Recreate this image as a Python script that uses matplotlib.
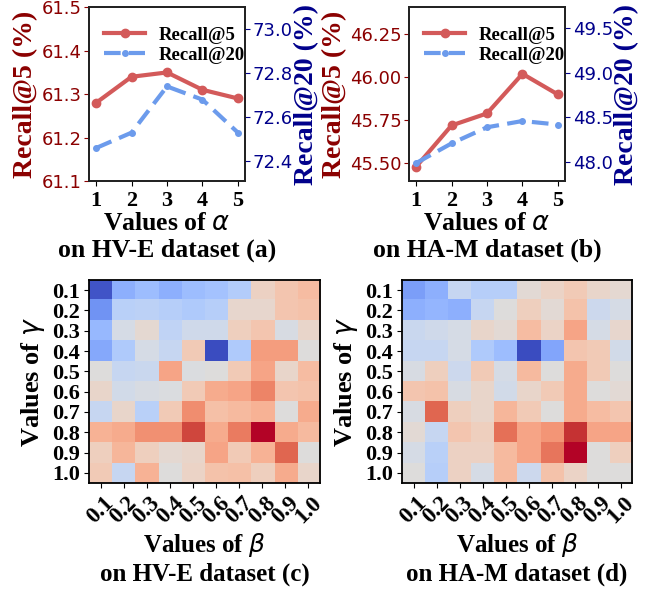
import matplotlib
matplotlib.use("Agg")
import matplotlib.pyplot as plt
from matplotlib.ticker import FormatStrFormatter
import numpy as np

# ── Datos ─────────────────────────────────────────────────────────────────────
alpha_vals = [1, 2, 3, 4, 5]
hve_r5  = [61.28, 61.34, 61.35, 61.31, 61.29]
hve_r20 = [72.46, 72.53, 72.74, 72.68, 72.53]
ham_r5  = [45.48, 45.72, 45.79, 46.02, 45.90]
ham_r20 = [47.99, 48.21, 48.39, 48.46, 48.42]

grid_labels = ["0.1", "0.2", "0.3", "0.4", "0.5", "0.6", "0.7", "0.8", "0.9", "1.0"]

# filas = gamma, columnas = beta (escala normalizada 0-1)
hve_grid = [
    [0.02, 0.25, 0.30, 0.25, 0.30, 0.32, 0.36, 0.57, 0.62, 0.65],
    [0.17, 0.38, 0.39, 0.37, 0.35, 0.37, 0.54, 0.54, 0.62, 0.63],
    [0.28, 0.47, 0.53, 0.40, 0.45, 0.45, 0.58, 0.62, 0.48, 0.55],
    [0.23, 0.35, 0.47, 0.42, 0.60, 0.00, 0.35, 0.74, 0.74, 0.50],
    [0.50, 0.42, 0.43, 0.72, 0.49, 0.50, 0.60, 0.72, 0.55, 0.65],
    [0.55, 0.46, 0.48, 0.49, 0.60, 0.70, 0.72, 0.80, 0.62, 0.63],
    [0.42, 0.55, 0.38, 0.60, 0.78, 0.64, 0.66, 0.68, 0.50, 0.70],
    [0.68, 0.70, 0.77, 0.77, 0.92, 0.70, 0.82, 1.00, 0.70, 0.66],
    [0.58, 0.67, 0.58, 0.53, 0.55, 0.72, 0.60, 0.68, 0.86, 0.50],
    [0.60, 0.42, 0.68, 0.50, 0.56, 0.63, 0.64, 0.58, 0.70, 0.55],
]
ham_grid = [
    [0.20, 0.25, 0.42, 0.37, 0.37, 0.52, 0.56, 0.60, 0.55, 0.53],
    [0.25, 0.27, 0.25, 0.42, 0.50, 0.58, 0.52, 0.63, 0.44, 0.47],
    [0.43, 0.45, 0.47, 0.55, 0.52, 0.65, 0.56, 0.72, 0.47, 0.54],
    [0.42, 0.42, 0.47, 0.35, 0.30, 0.00, 0.22, 0.62, 0.60, 0.46],
    [0.48, 0.58, 0.44, 0.60, 0.47, 0.66, 0.50, 0.70, 0.60, 0.50],
    [0.62, 0.63, 0.48, 0.55, 0.46, 0.55, 0.60, 0.70, 0.50, 0.52],
    [0.48, 0.86, 0.58, 0.55, 0.67, 0.60, 0.50, 0.70, 0.65, 0.62],
    [0.52, 0.42, 0.62, 0.58, 0.84, 0.72, 0.76, 0.95, 0.72, 0.72],
    [0.47, 0.38, 0.57, 0.57, 0.66, 0.72, 0.83, 1.00, 0.50, 0.58],
    [0.50, 0.37, 0.57, 0.47, 0.66, 0.44, 0.63, 0.56, 0.50, 0.50],
]

SERIF = "Liberation Serif"
RED_LINE = "#d35a5a"
BLUE_LINE = "#6c9bec"

fig = plt.figure(figsize=(6.52, 5.91), dpi=100)


def line_panel(rect, r5, r20, ylim5, yt5, ylim20, yt20, caption, fmt5):
    ax = fig.add_axes(rect)
    ax2 = ax.twinx()
    ax.plot(alpha_vals, r5, color=RED_LINE, lw=3, marker="o", ms=6, label="Recall@5")
    ax2.plot(alpha_vals, r20, color=BLUE_LINE, lw=3, ls=(0, (4, 2)), marker="o", ms=4,
             label="Recall@20")
    ax.set_ylim(*ylim5)
    ax.set_yticks(yt5)
    ax.yaxis.set_major_formatter(FormatStrFormatter(fmt5))
    ax2.set_ylim(*ylim20)
    ax2.set_yticks(yt20)
    ax.set_xticks(alpha_vals)
    ax.set_xticklabels([str(a) for a in alpha_vals], fontfamily=SERIF,
                       fontweight="bold", fontsize=16)
    ax.tick_params(axis="y", colors="darkred", labelsize=13, pad=2)
    ax2.tick_params(axis="y", colors="darkblue", labelsize=13, pad=2)
    ax.set_ylabel("Recall@5 (%)", color="darkred", fontfamily=SERIF,
                  fontweight="bold", fontsize=20, labelpad=2)
    ax2.set_ylabel("Recall@20 (%)", color="darkblue", fontfamily=SERIF,
                   fontweight="bold", fontsize=20, labelpad=1)
    ax.set_xlabel("Values of $\\alpha$\n" + caption, fontfamily=SERIF,
                  fontweight="bold", fontsize=18.5, labelpad=1, linespacing=1.2)
    for a in (ax, ax2):
        for s in a.spines.values():
            s.set_linewidth(1.3)
            s.set_color("#222222")
    h1, l1 = ax.get_legend_handles_labels()
    h2, l2 = ax2.get_legend_handles_labels()
    ax.legend(h1 + h2, l1 + l2, loc="upper left", bbox_to_anchor=(0.06, 0.92),
              borderaxespad=0, frameon=False,
              prop={"family": SERIF, "weight": "bold", "size": 13.5},
              handlelength=2.2, handletextpad=0.7, borderpad=0.3, labelspacing=0.15)
    return ax


def heat_panel(rect, grid, caption):
    ax = fig.add_axes(rect)
    ax.imshow(np.array(grid), cmap="coolwarm", vmin=0, vmax=1, aspect="auto",
              interpolation="nearest")
    ax.set_xticks(range(len(grid_labels)))
    ax.set_yticks(range(len(grid_labels)))
    ax.set_xticklabels(grid_labels, rotation=45, ha="center", fontfamily=SERIF,
                       fontweight="bold", fontsize=16.5)
    ax.set_yticklabels(grid_labels, fontfamily=SERIF, fontweight="bold", fontsize=16)
    ax.tick_params(axis="both", pad=3)
    ax.set_ylabel("Values of $\\gamma$", fontfamily=SERIF, fontweight="bold",
                  fontsize=19, labelpad=4)
    ax.set_xlabel("Values of $\\beta$\n" + caption, fontfamily=SERIF,
                  fontweight="bold", fontsize=18, labelpad=3, linespacing=1.2)
    for s in ax.spines.values():
        s.set_linewidth(1.3)
    return ax


line_panel([0.1365, 0.6937, 0.2393, 0.294], hve_r5, hve_r20,
           (61.1, 61.5), [61.1, 61.2, 61.3, 61.4, 61.5],
           (72.31, 73.1), [72.4, 72.6, 72.8, 73.0],
           "on HV-E dataset (a)", "%.1f")
line_panel([0.6273, 0.6937, 0.2393, 0.294], ham_r5, ham_r20,
           (45.397, 46.407), [45.50, 45.75, 46.00, 46.25],
           (47.79, 49.73), [48.0, 48.5, 49.0, 49.5],
           "on HA-M dataset (b)", "%.2f")

heat_panel([0.1365, 0.1827, 0.3543, 0.3435], hve_grid, "on HV-E dataset (c)")
heat_panel([0.6166, 0.1827, 0.3528, 0.3435], ham_grid, "on HA-M dataset (d)")

fig.savefig("out.png", dpi=100)
